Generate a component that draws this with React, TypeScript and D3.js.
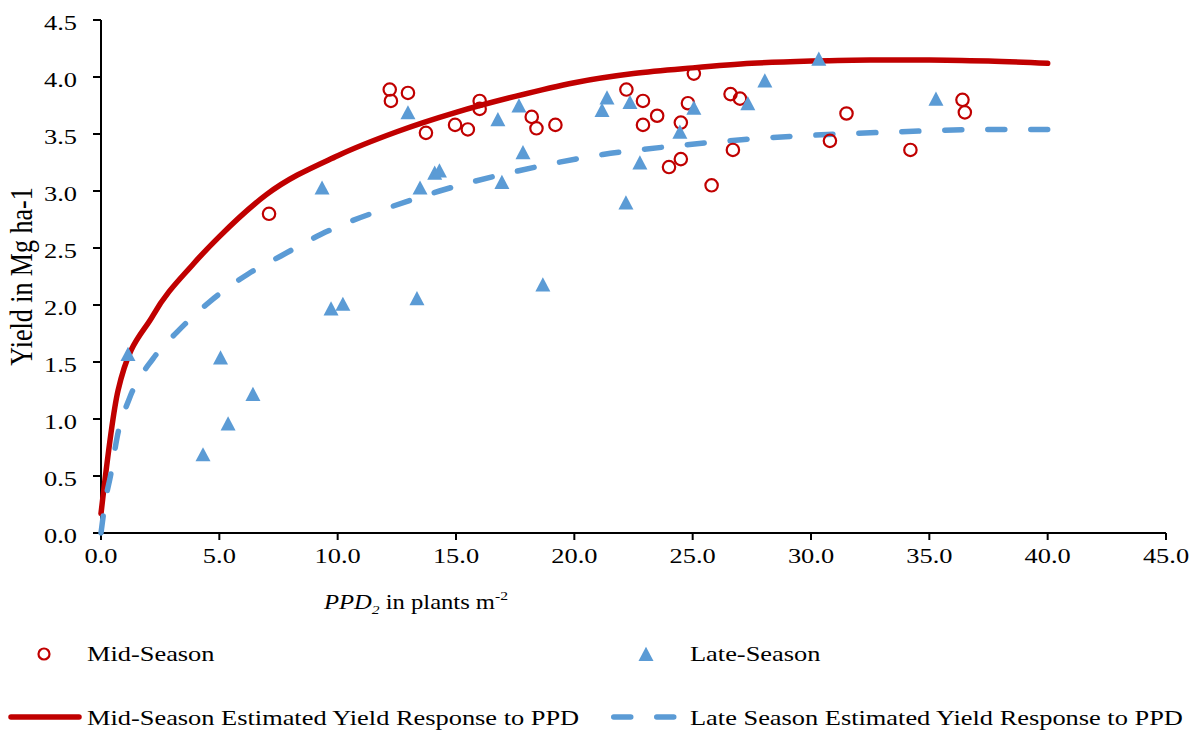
import React from "react";
import * as d3 from "d3";

// Observed plant population density (plants m-2) and yield (Mg ha-1)
const midSeasonPPD = [7.1, 12.2, 12.25, 12.97, 13.73, 14.96, 15.5, 16.0, 16.0, 18.2, 18.4, 19.2, 22.2, 22.9, 22.9, 23.5, 24.0, 24.5, 24.5, 24.8, 25.05, 25.8, 26.6, 27.0, 26.7, 30.8, 31.5, 34.2, 36.4, 36.5];
const midSeasonYield = [2.8, 3.89, 3.79, 3.86, 3.51, 3.58, 3.54, 3.79, 3.72, 3.65, 3.55, 3.58, 3.89, 3.79, 3.58, 3.66, 3.21, 3.28, 3.6, 3.77, 4.03, 3.05, 3.85, 3.81, 3.36, 3.44, 3.68, 3.36, 3.8, 3.69];

const lateSeasonPPD = [1.14, 4.31, 5.05, 5.37, 6.42, 9.34, 9.72, 10.22, 12.97, 13.35, 13.48, 14.1, 14.3, 16.77, 16.94, 17.66, 17.83, 18.67, 21.17, 21.38, 22.18, 22.35, 22.77, 24.46, 25.05, 27.33, 28.05, 30.33, 35.28];
const lateSeasonYield = [1.57, 0.69, 1.54, 0.96, 1.22, 3.03, 1.97, 2.01, 3.69, 2.06, 3.03, 3.16, 3.18, 3.63, 3.08, 3.75, 3.34, 2.18, 3.71, 3.82, 2.9, 3.78, 3.25, 3.52, 3.73, 3.77, 3.97, 4.16, 3.81];

// Estimated yield response curves
const midCurvePPD = [0, 0.72, 2.2, 3.9, 5, 7, 10, 12.5, 15, 17.5, 20, 22.5, 25, 27.5, 30, 32.5, 35, 37.5, 40];
const midCurveYield = [0.17, 1.25, 1.91, 2.36, 2.6, 2.97, 3.31, 3.52, 3.69, 3.83, 3.95, 4.03, 4.08, 4.12, 4.14, 4.15, 4.15, 4.14, 4.12];
const lateCurvePPD = [0, 0.2, 0.4, 0.7, 1.2, 2.2, 3.2, 4.6, 6.2, 7.6, 9.3, 10.5, 12.1, 14.3, 17.7, 21.2, 24.5, 28.4, 30.1, 33.8, 37.4, 40];
const lateCurveYield = [0, 0.3, 0.5, 0.86, 1.18, 1.53, 1.76, 2.03, 2.27, 2.43, 2.62, 2.73, 2.85, 3.0, 3.18, 3.32, 3.4, 3.47, 3.49, 3.52, 3.54, 3.54];

const xTicks = [0, 5, 10, 15, 20, 25, 30, 35, 40, 45];
const yTicks = [0, 0.5, 1, 1.5, 2, 2.5, 3, 3.5, 4, 4.5];

const RED = "#C00000";
const BLUE = "#5B9BD5";
const FONT = "'Liberation Serif', 'Times New Roman', serif";
const SX = 1.2; // horizontal text stretch

const x = d3.scaleLinear().domain([0, 45]).range([101, 1166]);
const y = d3.scaleLinear().domain([0, 4.5]).range([533, 20]);

const line = d3
  .line<[number, number]>()
  .x((d) => x(d[0]))
  .y((d) => y(d[1]))
  .curve(d3.curveMonotoneX);

const midCurve = midCurvePPD.map((v, i) => [v, midCurveYield[i]] as [number, number]);
const lateCurve = lateCurvePPD.map((v, i) => [v, lateCurveYield[i]] as [number, number]);

const triPath = "M0,-7.2L7.5,7L-7.5,7Z";

function T(props: { x: number; y: number; anchor?: string; children: React.ReactNode; size?: number }) {
  return (
    <text
      transform={`translate(${props.x},${props.y}) scale(${SX},1)`}
      textAnchor={props.anchor || "start"}
      fontFamily={FONT}
      fontSize={props.size || 22}
      fill="#000"
    >
      {props.children}
    </text>
  );
}

export default function App() {
  return (
    <svg
      width={1199}
      height={732}
      style={{ position: "absolute", left: 0, top: 0, background: "#fff" }}
    >
      {/* y axis */}
      <line x1={x(0)} x2={x(0)} y1={y(0)} y2={y(4.5)} stroke="#000" strokeWidth={2} />
      {yTicks.map((t) => (
        <g key={"y" + t}>
          <line x1={x(0) - 8} x2={x(0)} y1={y(t)} y2={y(t)} stroke="#000" strokeWidth={2} />
          <T x={77} y={y(t) + 10} anchor="end">
            {t.toFixed(1)}
          </T>
        </g>
      ))}
      {/* x axis */}
      <line x1={x(0)} x2={x(45)} y1={y(0)} y2={y(0)} stroke="#000" strokeWidth={2} />
      {xTicks.map((t) => (
        <g key={"x" + t}>
          <line x1={x(t)} x2={x(t)} y1={y(0)} y2={y(0) + 7} stroke="#000" strokeWidth={2} />
          <T x={x(t)} y={563} anchor="middle">
            {t.toFixed(1)}
          </T>
        </g>
      ))}

      {/* axis titles */}
      <text
        transform={`translate(32,${(y(0) + y(4.5)) / 2}) rotate(-90) scale(1,${SX})`}
        textAnchor="middle"
        fontFamily={FONT}
        fontSize={26}
        fill="#000"
      >
        Yield in Mg ha-1
      </text>
      <T x={416} y={609} anchor="middle" size={20.5}>
        <tspan fontStyle="italic">PPD</tspan>
        <tspan fontStyle="italic" fontSize={13} dy={5}>2</tspan>
        <tspan dy={-5}> in plants m</tspan>
        <tspan fontSize={13} dy={-9}>-2</tspan>
      </T>

      {/* response curves */}
      <path d={line(midCurve) || ""} fill="none" stroke={RED} strokeWidth={5.5} strokeLinecap="round" strokeLinejoin="round" />
      <path
        d={line(lateCurve) || ""}
        fill="none"
        stroke={BLUE}
        strokeWidth={5.5}
        strokeDasharray="17 26"
        strokeLinecap="round"
      />

      {/* observations */}
      {midSeasonPPD.map((v, i) => (
        <circle key={"m" + i} cx={x(v)} cy={y(midSeasonYield[i])} r={6.2} fill="none" stroke={RED} strokeWidth={2.2} />
      ))}
      {lateSeasonPPD.map((v, i) => (
        <path key={"l" + i} d={triPath} transform={`translate(${x(v)},${y(lateSeasonYield[i])})`} fill={BLUE} />
      ))}

      {/* legend */}
      <circle cx={44} cy={654} r={5.5} fill="none" stroke={RED} strokeWidth={2.2} />
      <T x={87} y={661}>Mid-Season</T>
      <path d={triPath} transform="translate(646,654)" fill={BLUE} />
      <T x={690} y={661}>Late-Season</T>

      <line x1={11} x2={79} y1={717} y2={717} stroke={RED} strokeWidth={5.5} strokeLinecap="round" />
      <T x={87} y={725}>Mid-Season Estimated Yield Response to PPD</T>
      <line x1={613.75} x2={675} y1={717} y2={717} stroke={BLUE} strokeWidth={5.5} strokeDasharray="17 26" strokeLinecap="round" />
      <T x={690} y={725}>Late Season Estimated Yield Response to PPD</T>
    </svg>
  );
}
